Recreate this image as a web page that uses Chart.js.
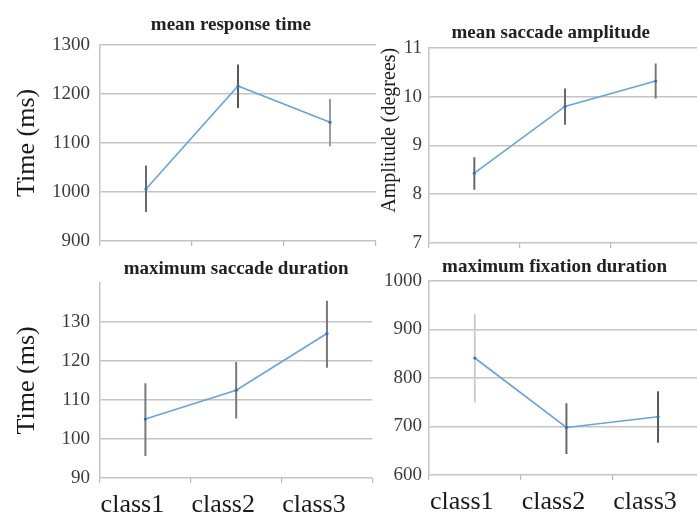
<!DOCTYPE html>
<html>
<head>
<meta charset="utf-8">
<script src="https://cdn.jsdelivr.net/npm/chart.js@4/dist/chart.umd.min.js"></script>
<style>
  html, body { margin: 0; padding: 0; background: #fff; overflow: hidden; }
  body { width: 697px; height: 514px; position: relative; }
  canvas { position: absolute; }
</style>
</head>
<body>
<canvas id="c1" width="380" height="270" style="left:0;top:0"></canvas>
<canvas id="c2" width="345" height="270" style="left:360px;top:0"></canvas>
<canvas id="c3" width="380" height="259" style="left:0;top:255px"></canvas>
<canvas id="c4" width="351" height="259" style="left:360px;top:255px"></canvas>
<script>
// dados
const classes = ["class1", "class2", "class3"];

const respMean = [1006, 1216, 1142];
const respLow = [960, 1172, 1094];
const respHigh = [1053, 1259, 1189];

const ampMean = [8.43, 9.80, 10.32];
const ampLow = [8.10, 9.43, 9.97];
const ampHigh = [8.75, 10.16, 10.67];

const sacMean = [105.1, 112.5, 127.0];
const sacLow = [95.7, 105.3, 118.3];
const sacHigh = [114.2, 119.6, 135.3];

const fixMean = [841, 698, 720];
const fixLow = [750, 644, 667];
const fixHigh = [931, 747, 772];

Chart.defaults.font.family = "'Liberation Serif', serif";
Chart.defaults.animation = false;

const gridColor = "#c4c4c4";

// monta um painel
function makePanel(id, cfg) {
  const errData = cfg.low.map((l, i) => [l, cfg.high[i]]);
  return new Chart(document.getElementById(id), {
    type: "line",
    data: {
      labels: classes,
      datasets: [
        {
          type: "line",
          data: cfg.mean,
          borderColor: "#6aa3d8",
          borderWidth: 1.6,
          pointRadius: 1.6,
          pointBackgroundColor: "#2f72b8",
          pointBorderWidth: 0,
          tension: 0,
          order: 0
        },
        {
          type: "bar",
          data: errData,
          backgroundColor: cfg.errColors,
          barThickness: 1.3,
          order: 1
        }
      ]
    },
    options: {
      responsive: false,
      layout: { padding: 0 },
      plugins: {
        legend: { display: false },
        tooltip: { enabled: false },
        title: {
          display: true,
          fullSize: false,
          // espacos no fim deslocam o titulo um pouco para a esquerda
          text: cfg.title + " ".repeat(cfg.titleShift),
          color: "#222",
          font: { size: 19, weight: "bold" },
          padding: cfg.titlePad
        }
      },
      scales: {
        x: {
          offset: true,
          grid: { offset: true, drawOnChartArea: false, tickLength: 5, color: "#bbb", lineWidth: 1.2 },
          border: { display: false },
          ticks: {
            display: cfg.showX,
            autoSkip: false,
            color: "#1a1a1a",
            font: { size: 26 },
            padding: 7,
            maxRotation: 0,
            callback: (v, i) => classes[i] + "    "
          },
          afterFit: s => { s.height = cfg.xHeight; }
        },
        y: {
          min: cfg.min,
          max: cfg.max,
          ticks: {
            stepSize: cfg.step,
            color: "#3c3c3c",
            font: { size: 19 },
            padding: cfg.tickPad,
            callback: v => (cfg.hideTop && v === cfg.max ? "" : v)
          },
          grid: {
            drawTicks: false,
            lineWidth: 1.5,
            color: c => (cfg.hideTop && c.tick && c.tick.value === cfg.max ? "rgba(0,0,0,0)" : gridColor)
          },
          border: { display: true, color: gridColor, width: 1.5 },
          title: {
            display: !!cfg.yTitle,
            text: cfg.yTitle,
            align: cfg.yTitleAlign,
            color: "#1a1a1a",
            font: { size: cfg.yTitleSize },
            padding: { top: cfg.yTitlePad, bottom: 0 }
          },
          afterFit: s => { s.width = cfg.yWidth; }
        }
      }
    }
  });
}

makePanel("c1", {
  title: "mean response time", titleShift: 3,
  mean: respMean, low: respLow, high: respHigh,
  errColors: ["#666", "#555", "#999"],
  min: 900, max: 1300, step: 100,
  yTitle: "Time (ms)", yTitleSize: 26, yTitlePad: 12, yTitleAlign: "center",
  yWidth: 100, tickPad: 10,
  titlePad: { top: 14, bottom: 8 },
  showX: false, xHeight: 29
});

makePanel("c2", {
  title: "mean saccade amplitude", titleShift: 6,
  mean: ampMean, low: ampLow, high: ampHigh,
  errColors: ["#666", "#666", "#777"],
  min: 7, max: 11, step: 1,
  yTitle: "Amplitude (degrees)", yTitleSize: 20, yTitlePad: 18, yTitleAlign: "end",
  yWidth: 69, tickPad: 7,
  titlePad: { top: 22, bottom: 3 },
  showX: false, xHeight: 27
});

makePanel("c3", {
  title: "maximum saccade duration", titleShift: 0,
  mean: sacMean, low: sacLow, high: sacHigh,
  errColors: ["#777", "#777", "#777"],
  min: 90, max: 140, step: 10, hideTop: true,
  yTitle: "Time (ms)", yTitleSize: 26, yTitlePad: 12, yTitleAlign: "center",
  yWidth: 100, tickPad: 10,
  titlePad: { top: 3, bottom: 2 },
  showX: true, xHeight: 36
});

makePanel("c4", {
  title: "maximum fixation duration", titleShift: 5,
  mean: fixMean, low: fixLow, high: fixHigh,
  errColors: ["#ccc", "#666", "#555"],
  min: 600, max: 1000, step: 100,
  yTitle: "", yTitleSize: 20, yTitlePad: 0, yTitleAlign: "center",
  yWidth: 69, tickPad: 7,
  titlePad: { top: 1, bottom: 2 },
  showX: true, xHeight: 39
});
</script>
</body>
</html>
